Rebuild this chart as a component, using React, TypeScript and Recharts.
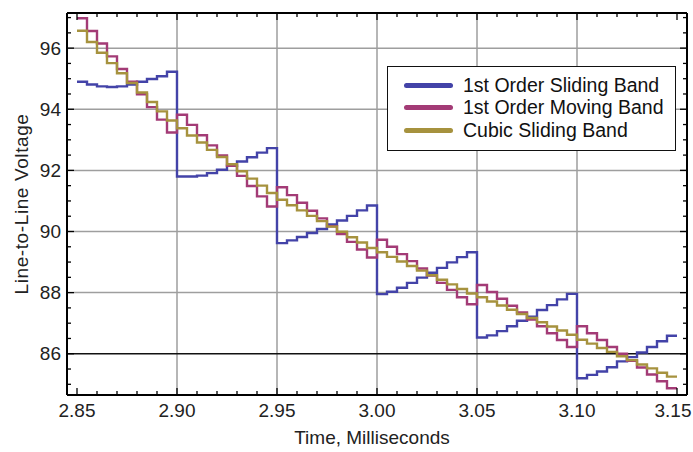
import { LineChart, Line, XAxis, YAxis, ReferenceLine } from "recharts"

const W = 693
const H = 452
const MARGIN = { top: 13, right: 6, bottom: 0, left: 0 }
const Y_AXIS_W = 67
const X_AXIS_H = 57
const PLOT_TOP = MARGIN.top
const PLOT_BOTTOM = H - MARGIN.bottom - X_AXIS_H
const PLOT_LEFT = MARGIN.left + Y_AXIS_W
const PLOT_RIGHT = W - MARGIN.right

const FONT = "'Liberation Sans', Arial, sans-serif"

// sample times (ms), one step every 0.005
const TIME = [
  2.85, 2.855, 2.86, 2.865, 2.87, 2.875, 2.88, 2.885, 2.89, 2.895,
  2.9, 2.905, 2.91, 2.915, 2.92, 2.925, 2.93, 2.935, 2.94, 2.945,
  2.95, 2.955, 2.96, 2.965, 2.97, 2.975, 2.98, 2.985, 2.99, 2.995,
  3.0, 3.005, 3.01, 3.015, 3.02, 3.025, 3.03, 3.035, 3.04, 3.045,
  3.05, 3.055, 3.06, 3.065, 3.07, 3.075, 3.08, 3.085, 3.09, 3.095,
  3.1, 3.105, 3.11, 3.115, 3.12, 3.125, 3.13, 3.135, 3.14, 3.145,
  3.15,
]

const slidingBand = [
  94.9, 94.81, 94.75, 94.73, 94.75, 94.81, 94.9, 94.99, 95.08, 95.23,
  91.8, 91.8, 91.83, 91.91, 92.02, 92.15, 92.29, 92.43, 92.58, 92.73,
  89.62, 89.71, 89.82, 89.95, 90.08, 90.23, 90.36, 90.51, 90.69, 90.85,
  87.95, 88.03, 88.16, 88.32, 88.49, 88.65, 88.81, 88.99, 89.16, 89.32,
  86.53, 86.6, 86.74, 86.9, 87.08, 87.21, 87.43, 87.59, 87.78, 87.96,
  85.2, 85.31, 85.42, 85.56, 85.75, 85.89, 86.04, 86.22, 86.41, 86.59,
]

const movingBand = [
  96.98, 96.56, 96.15, 95.73, 95.32, 94.9, 94.49, 94.07, 93.66, 93.24,
  93.82, 93.49, 93.15, 92.82, 92.49, 92.15, 91.82, 91.49, 91.15, 90.82,
  91.45, 91.19, 90.94, 90.68, 90.43, 90.17, 89.92, 89.66, 89.41, 89.15,
  89.73, 89.5, 89.26, 89.03, 88.79, 88.56, 88.32, 88.09, 87.85, 87.62,
  88.25, 88.02, 87.8, 87.57, 87.35, 87.12, 86.9, 86.67, 86.45, 86.22,
  86.9, 86.67, 86.45, 86.22, 86.0, 85.77, 85.55, 85.32, 85.1, 84.87,
]

const cubicBand = [
  96.57, 96.2, 95.85, 95.51, 95.18, 94.86, 94.55, 94.24, 93.93, 93.63,
  93.38, 93.14, 92.91, 92.67, 92.44, 92.2, 91.97, 91.73, 91.5, 91.26,
  91.04, 90.86, 90.69, 90.51, 90.34, 90.16, 89.99, 89.81, 89.64, 89.46,
  89.32, 89.17, 89.02, 88.87, 88.72, 88.57, 88.42, 88.27, 88.12, 87.97,
  87.85, 87.71, 87.58, 87.44, 87.3, 87.17, 87.03, 86.89, 86.76, 86.62,
  86.46, 86.33, 86.19, 86.06, 85.92, 85.79, 85.65, 85.52, 85.38, 85.25,
]

const X_TICKS = [
  2.85, 2.86, 2.87, 2.88, 2.89, 2.9, 2.91, 2.92, 2.93, 2.94, 2.95,
  2.96, 2.97, 2.98, 2.99, 3.0, 3.01, 3.02, 3.03, 3.04, 3.05,
  3.06, 3.07, 3.08, 3.09, 3.1, 3.11, 3.12, 3.13, 3.14, 3.15,
]
const X_MAJOR = [2.85, 2.9, 2.95, 3.0, 3.05, 3.1, 3.15]
const X_GRID = [2.9, 2.95, 3.0, 3.05, 3.1]

const Y_TICKS = [
  85, 85.5, 86, 86.5, 87, 87.5, 88, 88.5, 89, 89.5, 90, 90.5,
  91, 91.5, 92, 92.5, 93, 93.5, 94, 94.5, 95, 95.5, 96, 96.5, 97,
]
const Y_MAJOR = [86, 88, 90, 92, 94, 96]
const Y_GRID = [88, 90, 92, 94, 96]

const X_DOMAIN = [2.845, 3.155]
const Y_DOMAIN = [84.65, 97.15]

const SERIES = [
  { key: "sliding", name: "1st Order Sliding Band", color: "#4343a8" },
  { key: "moving", name: "1st Order Moving Band", color: "#a33b76" },
  { key: "cubic", name: "Cubic Sliding Band", color: "#a6923e" },
]

// last sample is held until 3.15 so the final step gets drawn
const data = TIME.map((t, i) => {
  const j = Math.min(i, slidingBand.length - 1)
  return { t, sliding: slidingBand[j], moving: movingBand[j], cubic: cubicBand[j] }
})

const isMajor = (list: number[], v: number) => list.some((m) => Math.abs(m - v) < 1e-6)

function XTick(props: any) {
  const { x, payload } = props
  const major = isMajor(X_MAJOR, payload.value)
  const len = major ? 7 : 4
  // keep the last label inside the picture
  const lx = Math.min(x, W - 20)
  return (
    <g>
      <line x1={x} x2={x} y1={PLOT_BOTTOM} y2={PLOT_BOTTOM - len} stroke="#000" strokeWidth={1.3} />
      <line x1={x} x2={x} y1={PLOT_TOP} y2={PLOT_TOP + len} stroke="#000" strokeWidth={1.3} />
      {major && (
        <text x={lx} y={PLOT_BOTTOM + 22} textAnchor="middle" fontSize={19} fontFamily={FONT} fill="#222">
          {payload.value.toFixed(2)}
        </text>
      )}
    </g>
  )
}

function YTick(props: any) {
  const { y, payload } = props
  const major = isMajor(Y_MAJOR, payload.value)
  const len = major ? 7 : 4
  return (
    <g>
      <line x1={PLOT_LEFT} x2={PLOT_LEFT + len} y1={y} y2={y} stroke="#000" strokeWidth={1.3} />
      <line x1={PLOT_RIGHT} x2={PLOT_RIGHT - len} y1={y} y2={y} stroke="#000" strokeWidth={1.3} />
      {major && (
        <text x={PLOT_LEFT - 6} y={y} dy="0.35em" textAnchor="end" fontSize={19} fontFamily={FONT} fill="#222">
          {payload.value}
        </text>
      )}
    </g>
  )
}

function ChartLegend() {
  return (
    <div
      style={{
        position: "absolute",
        left: 387,
        top: 66,
        width: 289,
        height: 85,
        border: "1.5px solid #111",
        background: "#fff",
        boxSizing: "border-box",
        paddingTop: 7,
      }}
    >
      {SERIES.map((s) => (
        <div key={s.key} style={{ display: "flex", alignItems: "center", height: 22.5 }}>
          <div style={{ marginLeft: 16, width: 49, height: 5, borderRadius: 3, background: s.color }} />
          <span style={{ marginLeft: 10, fontSize: 19.5, fontFamily: FONT, color: "#111" }}>{s.name}</span>
        </div>
      ))}
    </div>
  )
}

export default function App() {
  return (
    <div style={{ position: "absolute", left: 0, top: 0, width: W, height: H, background: "#fff" }}>
      <LineChart width={W} height={H} data={data} margin={MARGIN}>
        <XAxis
          dataKey="t"
          type="number"
          domain={X_DOMAIN}
          ticks={X_TICKS}
          interval={0}
          allowDataOverflow
          height={X_AXIS_H}
          tickLine={false}
          axisLine={false}
          tick={<XTick />}
        />
        <YAxis
          type="number"
          domain={Y_DOMAIN}
          ticks={Y_TICKS}
          interval={0}
          allowDataOverflow
          width={Y_AXIS_W}
          tickLine={false}
          axisLine={false}
          tick={<YTick />}
        />
        {X_GRID.map((v) => (
          <ReferenceLine key={"x" + v} x={v} stroke="#9e9e9e" strokeWidth={1.5} />
        ))}
        {Y_GRID.map((v) => (
          <ReferenceLine key={"y" + v} y={v} stroke="#9e9e9e" strokeWidth={1.5} />
        ))}
        <ReferenceLine y={86} stroke="#111" strokeWidth={1.3} />
        {SERIES.map((s) => (
          <Line
            key={s.key}
            dataKey={s.key}
            name={s.name}
            type="stepAfter"
            stroke={s.color}
            strokeWidth={2.4}
            dot={false}
            isAnimationActive={false}
          />
        ))}
        <ReferenceLine x={X_DOMAIN[0]} stroke="#000" strokeWidth={2} />
        <ReferenceLine x={X_DOMAIN[1]} stroke="#000" strokeWidth={2} />
        <ReferenceLine y={Y_DOMAIN[0]} stroke="#000" strokeWidth={2} />
        <ReferenceLine y={Y_DOMAIN[1]} stroke="#000" strokeWidth={2} />
      </LineChart>
      <div
        style={{
          position: "absolute",
          left: 0,
          top: 0,
          width: 42,
          height: PLOT_BOTTOM + PLOT_TOP,
          display: "flex",
          alignItems: "center",
          justifyContent: "center",
        }}
      >
        <span
          style={{
            transform: "rotate(-90deg)",
            whiteSpace: "nowrap",
            fontSize: 19,
            letterSpacing: 0.6,
            fontFamily: FONT,
            color: "#222",
          }}
        >
          Line-to-Line Voltage
        </span>
      </div>
      <div
        style={{
          position: "absolute",
          left: 272,
          width: 200,
          top: 427,
          textAlign: "center",
          fontSize: 19,
          fontFamily: FONT,
          color: "#222",
        }}
      >
        Time, Milliseconds
      </div>
      <ChartLegend />
    </div>
  )
}
